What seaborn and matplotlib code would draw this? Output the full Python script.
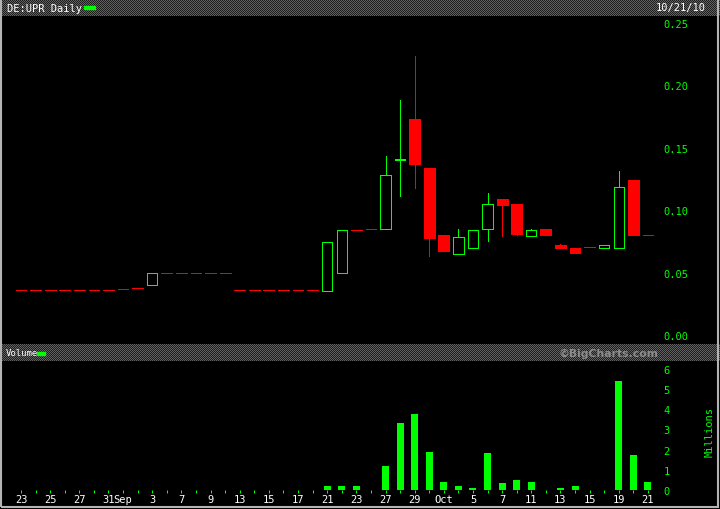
import numpy as np
import pandas as pd
import matplotlib
matplotlib.use("Agg")
import matplotlib.pyplot as plt
from matplotlib.patches import Rectangle
import seaborn as sns

# DE:UPR daily, 23 Aug - 21 Oct 2010 (one slot per trading day)
day_labels = ["23", "", "25", "", "27", "", "31", "Sep", "", "3", "", "7", "", "9", "", "13",
              "", "15", "", "17", "", "21", "", "23", "", "27", "", "29", "", "Oct", "", "5",
              "", "7", "", "11", "", "13", "", "15", "", "19", "", "21"]

open_ = [0.0358, 0.0358, 0.0358, 0.0358, 0.0358, 0.0358, 0.0358, 0.0366, 0.0374, 0.0400,
         0.0494, 0.0494, 0.0494, 0.0494, 0.0494, 0.0358, 0.0358, 0.0358, 0.0358, 0.0358,
         0.0358, 0.0355, 0.0494, 0.0839, 0.0847, 0.0847, 0.1400, 0.1731, 0.1338, 0.0801,
         0.0646, 0.0700, 0.0846, 0.1090, 0.1050, 0.0796, 0.0849, 0.0721, 0.0697, 0.0703,
         0.0700, 0.0700, 0.1242, 0.0799]
high = [0.0358, 0.0358, 0.0358, 0.0358, 0.0358, 0.0358, 0.0358, 0.0366, 0.0374, 0.0494,
        0.0494, 0.0494, 0.0494, 0.0494, 0.0494, 0.0358, 0.0358, 0.0358, 0.0358, 0.0358,
        0.0358, 0.0743, 0.0839, 0.0839, 0.0847, 0.1434, 0.1883, 0.2236, 0.1338, 0.0801,
        0.0849, 0.0839, 0.1138, 0.1090, 0.1050, 0.0849, 0.0849, 0.0732, 0.0697, 0.0703,
        0.0719, 0.1314, 0.1242, 0.0799]
low = [0.0358, 0.0358, 0.0358, 0.0358, 0.0358, 0.0358, 0.0358, 0.0366, 0.0374, 0.0400,
       0.0494, 0.0494, 0.0494, 0.0494, 0.0494, 0.0358, 0.0358, 0.0358, 0.0358, 0.0358,
       0.0358, 0.0355, 0.0494, 0.0839, 0.0847, 0.0847, 0.1116, 0.1178, 0.0636, 0.0675,
       0.0646, 0.0700, 0.0756, 0.0796, 0.0801, 0.0796, 0.0801, 0.0697, 0.0657, 0.0703,
       0.0700, 0.0700, 0.0801, 0.0799]
close = [0.0358, 0.0358, 0.0358, 0.0358, 0.0358, 0.0358, 0.0358, 0.0366, 0.0374, 0.0494,
         0.0494, 0.0494, 0.0494, 0.0494, 0.0494, 0.0358, 0.0358, 0.0358, 0.0358, 0.0358,
         0.0358, 0.0743, 0.0839, 0.0839, 0.0847, 0.1280, 0.1410, 0.1373, 0.0780, 0.0675,
         0.0783, 0.0839, 0.1047, 0.1044, 0.0809, 0.0839, 0.0801, 0.0697, 0.0657, 0.0703,
         0.0719, 0.1183, 0.0801, 0.0799]
# volume in millions of shares
volume = [0, 0, 0, 0, 0, 0, 0, 0, 0, 0,
          0, 0, 0, 0, 0, 0, 0, 0, 0, 0,
          0, 0.18, 0.18, 0.18, 0, 1.17, 3.30, 3.75, 1.87, 0.38,
          0.18, 0.08, 1.82, 0.33, 0.48, 0.38, 0, 0.08, 0.18, 0,
          0, 5.39, 1.72, 0.38]

price_ticks = [0.00, 0.05, 0.10, 0.15, 0.20, 0.25]
vol_ticks = [0, 1, 2, 3, 4, 5, 6]

GREEN = "#00ff00"
RED = "#ff0000"
W, H = 720, 510
LW = 0.72  # ~1 px

df = pd.DataFrame({"day": np.arange(len(open_)), "open": open_, "high": high,
                   "low": low, "close": close, "volume": volume})
df["up"] = df["close"] > df["open"]

plt.rcParams["font.family"] = ["DejaVu Sans Mono"]
fig = plt.figure(figsize=(W / 100, H / 100), dpi=100, facecolor="black")

# checkered header bands
def band(y0, h):
    yy, xx = np.mgrid[0:h, 0:W]
    g = np.where((xx + yy) % 2 == 0, 0.38, 0.12)
    img = np.dstack([g, g, g])
    fig.figimage(img, xo=0, yo=H - y0 - h, origin="upper", zorder=0)

band(0, 17)
band(345, 17)

xmin = -(21 - 3) / 14.58
xmax = xmin + 655 / 14.58

# price panel
ax = fig.add_axes([3 / W, (H - 344) / H, 655 / W, 327 / H])
ax.set_facecolor("black")
colors = np.where(df["up"], GREEN, RED)
ax.vlines(df["day"], df["low"], df["high"], colors=colors, linewidth=LW,
          antialiased=False, zorder=2)
body_lo = np.minimum(df["open"], df["close"])
body_h = (df["close"] - df["open"]).abs()
up = df[df["up"]]
dn = df[~df["up"]]
ax.bar(dn["day"], body_h[~df["up"]], bottom=body_lo[~df["up"]], width=0.74,
       color=RED, edgecolor=RED, linewidth=LW, antialiased=False, zorder=3)
ax.bar(up["day"], body_h[df["up"]], bottom=body_lo[df["up"]], width=0.70,
       facecolor="black", edgecolor=GREEN, linewidth=LW, antialiased=False, zorder=3)
ax.set_xlim(xmin, xmax)
ax.set_ylim(-8 / 1248, 0.25 + 7 / 1248)
ax.set_xticks([])
ax.yaxis.tick_right()
ax.set_yticks(price_ticks)
ax.set_yticklabels([f"{t:.2f}" for t in price_ticks])
ax.tick_params(axis="y", length=0, pad=4, labelcolor=GREEN, labelsize=7.5)
for s in ax.spines.values():
    s.set_visible(False)

# volume panel
axv = fig.add_axes([3 / W, (H - 491) / H, 655 / W, 128 / H])
axv.set_facecolor("black")
sns.barplot(data=df, x="day", y="volume", native_scale=True, width=0.48,
            color=GREEN, saturation=1, errorbar=None, ax=axv)
for p in axv.patches:
    p.set_edgecolor("none")
    p.set_antialiased(False)
axv.set_xlim(xmin, xmax)
axv.set_ylim(0, 6 + 7 / 20.17)
axv.set_xticks(df["day"])
axv.set_xticklabels(day_labels)
axv.tick_params(axis="x", length=2.4, width=LW, color=GREEN, labelcolor="white",
                labelsize=7.5, pad=0.5)
axv.yaxis.tick_right()
axv.set_yticks(vol_ticks)
axv.tick_params(axis="y", length=0, pad=4, labelcolor=GREEN, labelsize=7.5)
axv.set_xlabel("")
axv.set_ylabel("")
for s in axv.spines.values():
    s.set_visible(False)

# header texts
def px(x, y):
    return x / W, 1 - y / H

fig.text(*px(7, 8.5), "DE:UPR Daily", color="white", fontsize=7.5, va="center")
fig.patches.append(Rectangle(px(84, 10), 11 / W, 3 / H, transform=fig.transFigure,
                             color=GREEN, zorder=5))
fig.text(*px(706, 8.5), "10/21/10", color="white", fontsize=7.5, va="center", ha="right")
fig.text(*px(6, 354), "Volume", color="white", fontsize=6.5, va="center")
fig.patches.append(Rectangle(px(37, 356), 8 / W, 3 / H, transform=fig.transFigure,
                             color=GREEN, zorder=5))
fig.text(*px(658, 353.5), "\u00a9BigCharts.com", color="#8c8c8c", fontsize=7.8,
         fontweight="bold", family=["DejaVu Sans"], va="center", ha="right")
fig.text(*px(710, 432), "Millions", color=GREEN, fontsize=7.5, rotation=90,
         va="center", ha="center")

# outer frame
fig.patches.append(Rectangle((1 / W, 2.5 / H), 717 / W, 1.1, transform=fig.transFigure,
                             fill=False, edgecolor="#b4b4b4", linewidth=1.5, zorder=6))

fig.savefig("out.png", dpi=100, facecolor="black")
